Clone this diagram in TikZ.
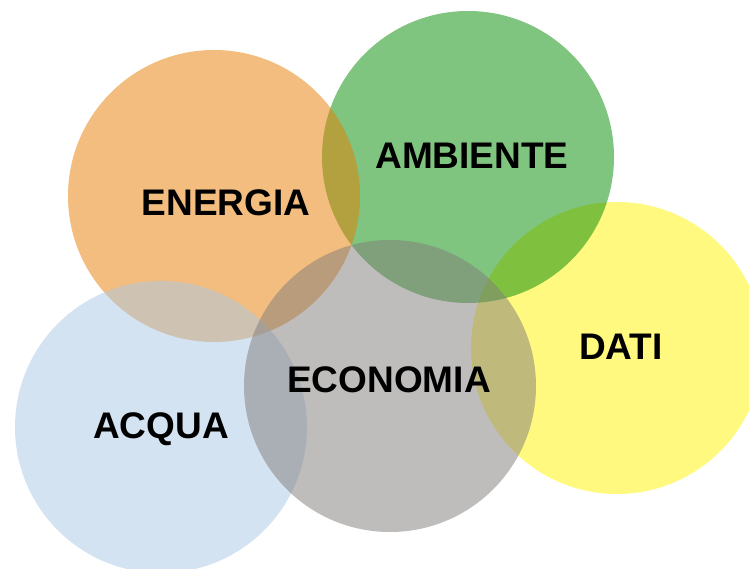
\documentclass[tikz,border=0pt]{standalone}
\usepackage{fontspec}
\setmainfont{Liberation Sans}
\usepackage{tikz}
\usetikzlibrary{positioning}

\definecolor{cOrange}{RGB}{231,125,1}
\definecolor{cGreen}{RGB}{0,139,0}
\definecolor{cYellow}{RGB}{255,245,0}
\definecolor{cBlue}{RGB}{171,201,229}
\definecolor{cGray}{RGB}{129,125,123}

\tikzset{
  bubble/.style={circle, minimum size=292pt, inner sep=0pt, fill opacity=.5},
  word/.style={font=\bfseries\fontsize{37}{40}\selectfont, inner sep=0pt}
}

\begin{document}
\begin{tikzpicture}[x=1pt,y=-1pt]
    \clip (0,0) rectangle (749,569);
    \fill[white] (0,0) rectangle (749,569);
    % circles, back to front
    \node[bubble, fill=cYellow] (dati) at (617,348) {};
    \node[bubble, fill=cGreen] (ambiente) at (468,157) {};
    \node[bubble, fill=cOrange] (energia) at (214,196) {};
    \node[bubble, fill=cBlue] (acqua) at (161,427) {};
    \node[bubble, fill=cGray] (economia) at (390,386) {};
    % labels
    \node[word] (tEnergia) at (226,203) {ENERGIA};
    \node[word] (tAmbiente) at (472,156) {AMBIENTE};
    \node[word] (tDati) at (621,347) {DATI};
    \node[word] (tEconomia) at (389,380) {ECONOMIA};
    \node[word] (tAcqua) at (161,429) {ACQUA};
\end{tikzpicture}
\end{document}
